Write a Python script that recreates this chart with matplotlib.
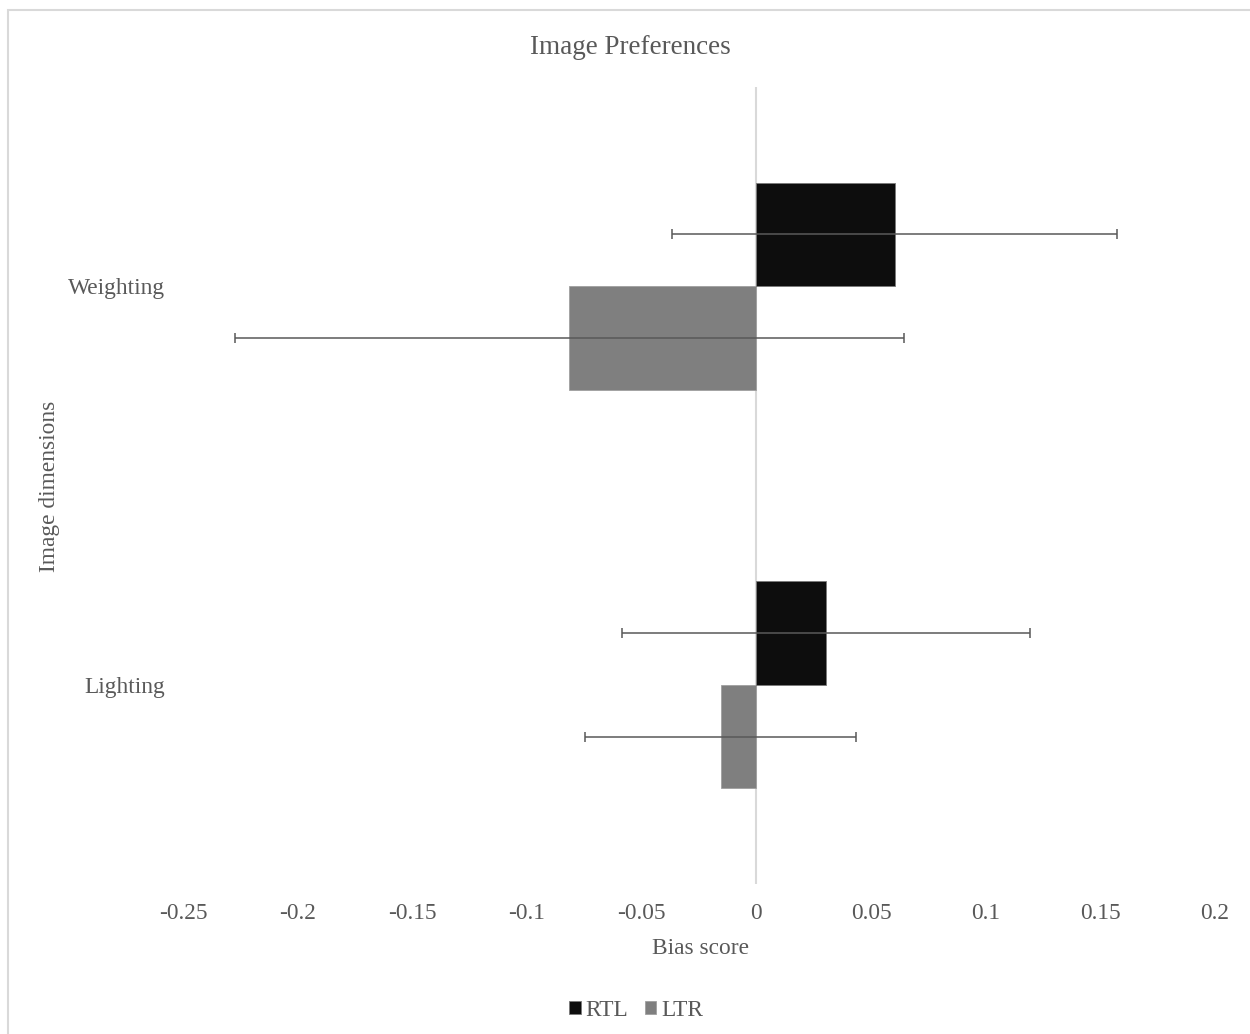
import numpy as np
import matplotlib.pyplot as plt
from matplotlib.patches import Rectangle

plt.rcParams['font.family'] = ['Liberation Serif', 'DejaVu Serif']

# data
categories = ['Lighting', 'Weighting']
rtl_vals = [0.0305, 0.0603]
rtl_err = [0.089, 0.097]
ltr_vals = [-0.0155, -0.0815]
ltr_err = [0.059, 0.146]
xticks = [-0.25, -0.2, -0.15, -0.1, -0.05, 0, 0.05, 0.1, 0.15, 0.2]

txt = '#595959'
fs = 16.8
fig = plt.figure(figsize=(12.5, 10.34), dpi=100)
ax = fig.add_axes([183/1250, 1-884/1034, (1215-183)/1250, (884-87)/1034])

y = np.arange(len(categories))
h = 0.26
ekw = dict(ecolor='#595959', elinewidth=1.1, capsize=3.6, capthick=1.1)
ax.barh(y - h/2, ltr_vals, height=h, color='#7f7f7f', edgecolor='#a0a0a0',
        linewidth=0.6, xerr=ltr_err, error_kw=ekw, label='LTR', zorder=2)
ax.barh(y + h/2, rtl_vals, height=h, color='#0d0d0d', edgecolor='#7a7a7a',
        linewidth=0.6, xerr=rtl_err, error_kw=ekw, label='RTL', zorder=2)
ax.axvline(0, color='#d9d9d9', linewidth=1.5, zorder=1)

ax.set_xlim(-0.25, 0.2)
ax.set_ylim(-0.5, 1.5)
ax.set_xticks(xticks)
ax.set_xticklabels(['0' if v == 0 else f'{v:g}' for v in xticks])
ax.set_yticks(y)
ax.set_yticklabels(categories)
ax.tick_params(axis='both', length=0, labelsize=fs, labelcolor=txt)
ax.tick_params(axis='x', pad=14)
ax.tick_params(axis='y', pad=13)
for s in ax.spines.values():
    s.set_visible(False)

fig.text(630/1250, 1-47/1034, 'Image Preferences', ha='center', va='center',
         fontsize=19.5, color=txt)
fig.text(700/1250, 1-948/1034, 'Bias score', ha='center', va='center',
         fontsize=fs, color=txt)
fig.text(50/1250, 1-486/1034, 'Image dimensions', ha='center', va='center',
         rotation=90, fontsize=fs, color=txt)

handles, labels = ax.get_legend_handles_labels()
leg = fig.legend(handles[::-1], labels[::-1], loc='center', bbox_to_anchor=(636/1250, 1-1010/1034),
                 ncol=2, frameon=False, fontsize=fs, handlelength=0.5, handleheight=0.5,
                 handletextpad=0.2, columnspacing=0.7)
for t in leg.get_texts():
    t.set_color(txt)

fig.patches.append(Rectangle((8/1250, -0.1), 1.2, 1.1 - 10/1034, transform=fig.transFigure,
                             fill=False, edgecolor='#d9d9d9', linewidth=1.5))

plt.savefig('out.png', dpi=100)
